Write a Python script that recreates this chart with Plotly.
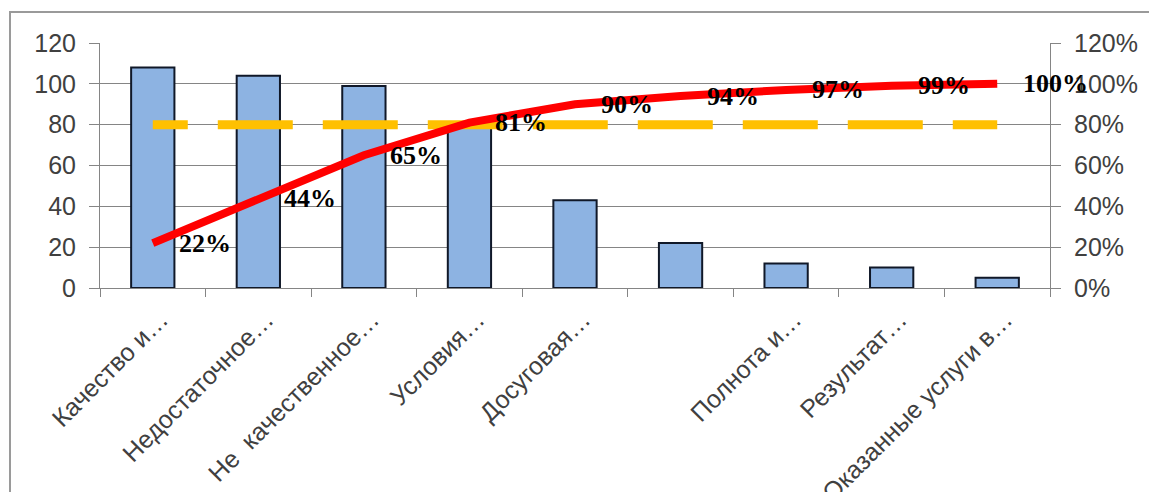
import plotly.graph_objects as go

# Pareto data: complaint categories, counts and cumulative share
categories = [
    "Качество и…",
    "Недостаточное…",
    "Не\u00a0\u00a0качественное…",
    "Условия…",
    "Досуговая…",
    "\u00a0",
    "Полнота и…",
    "Результат…",
    "Оказанные услуги в…",
]
counts = [108, 104, 99, 79, 43, 22, 12, 10, 5]
cumulative_pct = [22, 44, 65, 81, 90, 94, 97, 99, 100]
threshold_pct = 80

y_ticks = [0, 20, 40, 60, 80, 100, 120]
y2_ticks = [0, 0.2, 0.4, 0.6, 0.8, 1.0, 1.2]

W, H = 1149, 492
L, R, T, B = 100, 1050, 43, 288  # plot area in pixels

GRID = "#858585"
TICK_FONT = dict(family="Liberation Sans, Arial, sans-serif", size=25, color="#404040")

fig = go.Figure()

fig.add_trace(go.Bar(
    x=categories, y=counts,
    marker=dict(color="#8DB3E2", line=dict(color="#101828", width=2)),
    width=0.41, yaxis="y", showlegend=False,
))

fig.add_trace(go.Scatter(
    x=categories, y=[threshold_pct / 100] * len(categories),
    mode="lines", yaxis="y2", showlegend=False,
    line=dict(color="#FFC000", width=9,
              dash="35px,30px," + ",".join(["75px,30px"] * 8)),
))

fig.add_trace(go.Scatter(
    x=categories, y=[p / 100 for p in cumulative_pct],
    mode="lines", yaxis="y2", showlegend=False,
    line=dict(color="#FF0000", width=8),
))

for c, p in zip(categories, cumulative_pct):
    fig.add_annotation(
        x=c, y=p / 100, xref="x", yref="y2",
        text=f"<b>{p}%</b>", showarrow=False,
        xanchor="left", yanchor="middle", xshift=24, yshift=0,
        font=dict(family="Liberation Serif, Times New Roman, serif",
                  size=26, color="#000000"),
    )

# outer chart frame (clipped by the page at right and bottom)
def px_x(px):
    return (px - L) / (R - L)

def px_y(py):
    return (B - py) / (B - T)

fig.add_shape(
    type="rect", xref="paper", yref="paper",
    x0=px_x(10), x1=px_x(W + 20), y0=px_y(H + 20), y1=px_y(12),
    line=dict(color="#9a9a9a", width=2), fillcolor="rgba(0,0,0,0)",
    layer="below",
)

fig.update_layout(
    width=W, height=H,
    margin=dict(l=L, r=W - R, t=T, b=H - B, autoexpand=False),
    paper_bgcolor="white", plot_bgcolor="white",
    bargap=0.59,
    xaxis=dict(
        type="category", range=[-0.5, len(categories) - 0.5],
        tickangle=-45, tickfont=TICK_FONT, automargin=False,
        ticklabelstandoff=6, ticklabelshift=8,
        showline=True, linecolor=GRID, linewidth=1,
        ticks="outside", tickson="boundaries", ticklen=8, tickcolor=GRID,
        showgrid=False, zeroline=False,
    ),
    yaxis=dict(
        range=[0, 120], tickvals=y_ticks,
        tickfont=TICK_FONT, automargin=False,
        showline=True, linecolor=GRID, linewidth=1,
        ticks="outside", ticklen=10, tickcolor=GRID,
        showgrid=True, gridcolor=GRID, gridwidth=1,
        zeroline=False, ticklabelstandoff=8,
    ),
    yaxis2=dict(
        range=[0, 1.2], tickvals=y2_ticks, tickformat=".0%",
        overlaying="y", side="right",
        tickfont=TICK_FONT, automargin=False,
        showline=True, linecolor=GRID, linewidth=1,
        ticks="outside", ticklen=10, tickcolor=GRID,
        showgrid=False, zeroline=False, ticklabelstandoff=8,
    ),
)

fig.write_html("out.html")
